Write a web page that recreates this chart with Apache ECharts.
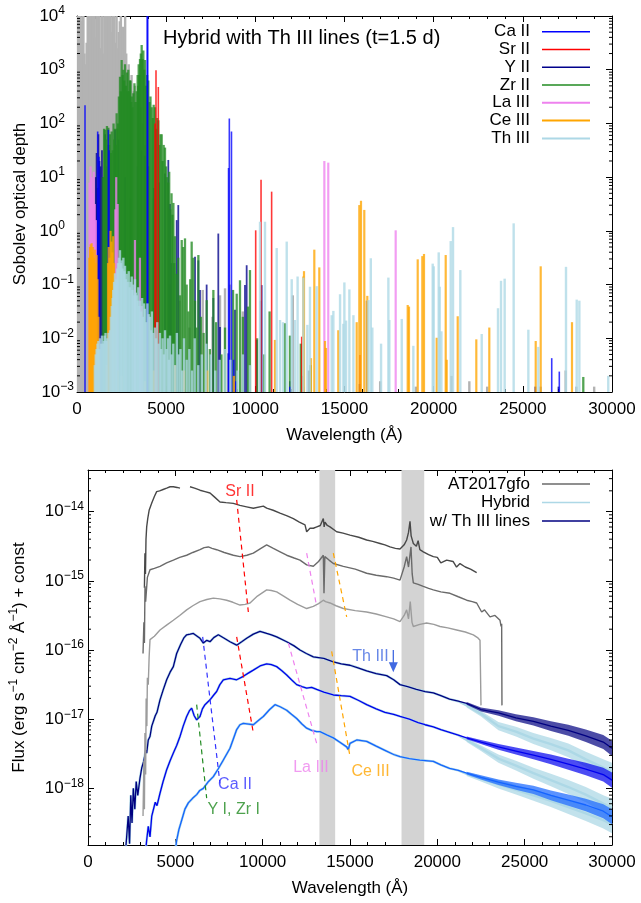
<!DOCTYPE html>
<html><head><meta charset="utf-8">
<script src="https://cdn.jsdelivr.net/npm/echarts@6/dist/echarts.min.js"></script>
<style>html,body{margin:0;padding:0;background:#fff}#c{width:641px;height:903px}</style>
</head><body><div id="c"></div>
<script>
// ===== TOP PANEL: Sobolev optical depth, entries are [wavelength (Å), log10 tau] =====
const others = [[60,4.2],[120,4.2],[180,4.2],[240,3.9],[300,4.2],[360,4.2],[420,3.3],[480,3.1],[540,3.5],[600,4.2],[660,4.2],[720,4.2],[780,3.9],[840,4.2],[900,4.2],[960,4.2],[1020,3.6],[1080,4.2],[1140,4.2],[1200,4.2],[1260,4.2],[1320,3.4],[1380,4.2],[1440,4.2],[1500,3.3],[1560,4.2],[1620,4.2],[1680,4.2],[1740,3.8],[1800,4.2],[1860,4.2],[1920,3.7],[1980,4.2],[2040,4.2],[2100,4.2],[2160,3.5],[2220,4.2],[2280,3.4],[2340,3.7],[2400,3.9],[2460,4.2],[2520,3.6],[2580,3.8],[2640,3.4],[2700,4.2],[2760,3.3],[2820,3.0],[2900,3.1],[2980,2.8],[3060,2.9],[3150,2.6],[3250,2.7],[3350,2.4],[3450,2.5],[3550,2.3],[3650,2.0],[3800,1.6],[4000,1.2],[4300,0.6],[5200,-1.0],[5750,-1.3],[6300,-1.8],[7050,-1.1],[7600,-1.6],[8020,-1.2],[8300,-1.07],[8580,-1.0],[9300,-1.5],[12100,-1.2],[13000,-2.6],[16250,-1.3],[17000,-2.8],[19000,-2.9],[21000,-2.7],[22000,-2.8],[23000,-2.9],[26000,-2.9],[27400,-2.6],[28000,-2.9],[29000,-2.9]];
const caII = [[449,2.34],[1160,1.85],[1234,1.38],[1757,1.88],[1800,1.5],[3934,5],[3968,4.2],[8498,1.17],[8542,2.09],[8662,1.85],[8780,-2.4],[8900,-2.8],[11940,-2.9],[12700,-2.9],[26620,-2.37],[27045,-2.62]];
const srII = [[4374,2.0],[4430,2.99],[4560,2.68],[10020,0.01],[10320,0.95],[10914,0.73],[12600,-1.97],[15870,-2.31]];
const yII = [[1050,1.0],[1100,1.45],[1160,0.8],[1200,1.8],[1260,1.3],[1320,1.2],[1400,1.5],[1450,1.0],[1570,1.8],[1650,1.2],[1750,1.6],[2130,1.88],[2317,1.7],[2700,1.0],[3000,0.6],[3400,1.2],[3600,1.5],[3800,1.4],[4000,1.2],[4300,0.8],[4600,0.9],[4935,1.07],[5120,1.32],[5215,0.5],[5300,-0.6],[5590,0.2],[5680,0.48],[6617,-0.48],[6804,-0.55],[6897,-1.10],[7270,-1.0],[7645,-1.25],[7924,-0.05],[8018,-1.79],[8486,-2.28],[8860,-1.47],[9420,-1.01],[9514,-0.64],[10075,-2.03],[10300,-1.3],[10355,-1.01],[11940,-2.8],[12680,-2.7],[15850,-2.85],[25700,-2.9],[27000,-2.9]];
const zrII = [[1450,1.0],[1520,1.9],[1570,1.88],[1620,1.7],[1680,1.95],[1757,1.92],[1800,1.6],[1850,1.8],[1900,1.45],[1944,1.85],[2000,1.5],[2050,2.0],[2090,1.7],[2130,1.9],[2180,1.6],[2224,2.19],[2260,1.9],[2300,2.0],[2350,2.5],[2411,2.87],[2460,2.6],[2505,3.18],[2560,2.9],[2600,3.0],[2650,2.8],[2692,3.1],[2750,2.7],[2800,2.95],[2840,2.6],[2878,3.0],[2930,2.6],[2970,2.8],[3000,2.8],[3040,2.4],[3070,2.5],[3110,2.3],[3159,2.56],[3220,2.75],[3280,2.4],[3346,2.6],[3400,2.9],[3430,2.7],[3460,3.1],[3500,2.9],[3533,3.2],[3580,3.3],[3626,3.46],[3680,3.2],[3720,3.36],[3770,3.0],[3813,3.18],[3870,2.7],[3930,2.9],[4000,2.8],[4060,2.4],[4120,2.5],[4187,2.3],[4250,2.1],[4300,2.35],[4374,2.3],[4440,1.9],[4500,2.1],[4561,2.06],[4620,1.6],[4680,1.8],[4748,1.8],[4800,1.3],[4860,1.6],[4935,1.55],[5000,1.2],[5050,1.0],[5110,0.9],[5170,1.1],[5230,0.4],[5300,0.7],[5350,0.3],[5405,0.52],[5450,-0.6],[5495,-0.1],[5580,-0.8],[5680,-0.5],[5780,-1.2],[5872,-0.17],[5960,-0.3],[6056,-0.14],[6150,-1.0],[6250,-1.5],[6350,-0.9],[6430,-0.2],[6526,-0.5],[6620,-1.3],[6700,-1.8],[6806,-0.45],[6950,-1.6],[7100,-1.9],[7273,-1.29],[7450,-2.2],[7647,-1.1],[7800,-1.7],[8100,-2.3],[8300,-1.8],[8750,-1.1],[8955,-1.17],[9140,-0.92],[9300,-1.6],[9590,-1.41],[9700,-0.73],[10100,-2.0],[10500,-2.3],[10800,-1.5],[11660,-1.72],[11940,-1.95],[12550,-2.1],[13100,-2.5],[28390,-2.72]];
const laIII = [[700,0.9],[760,1.2],[820,1.0],[880,0.7],[940,1.1],[1000,0.5],[1060,0.2],[2150,0.4],[2200,1.0],[2280,0.5],[3250,-0.17],[3530,-0.5],[3630,-1.4],[13870,1.30],[14090,1.27],[17870,0.01]];
const ceIII = [[690,-0.5],[730,-0.3],[770,-0.25],[820,-0.23],[860,-0.4],[900,-0.3],[950,-0.5],[1000,-0.35],[1050,-0.6],[1100,-0.45],[1150,-0.9],[1200,-1.6],[1240,-2.4],[1660,-2.5],[1740,-0.6],[1780,-0.3],[1830,-0.5],[1880,0.0],[1930,-0.2],[1980,-0.4],[2030,-0.1],[2080,-0.6],[2130,-1.5],[2300,-2.6],[2500,-2.7],[3800,-2.8],[4300,-2.6],[5500,-2.5],[6000,-2.6],[7300,-2.6],[8800,-2.7],[11100,-2.03],[12690,-0.85],[12729,-0.75],[13121,-2.37],[13307,-0.35],[13587,-0.68],[13907,-2.05],[13963,-2.18],[14652,-1.85],[15684,-1.70],[15830,0.48],[15925,0.56],[16110,0.39],[16279,-1.21],[18544,-1.38],[18617,-1.41],[19105,-0.53],[19363,-0.47],[19458,-0.43],[20170,-1.99],[20675,-0.45],[20731,-2.40],[21348,-1.59],[22391,-2.02],[23120,-1.80],[25722,-2.05],[26002,-0.66],[27757,-1.70]];
const thIII = [[1000,-2.5],[1050,-2.3],[1100,-2.2],[1150,-2.1],[1200,-2.05],[1250,-2.2],[1290,-2.0],[1350,-2.1],[1400,-1.95],[1450,-2.1],[1500,-2.05],[1550,-1.95],[1600,-1.9],[1650,-2.05],[1700,-2.0],[1770,-1.9],[1850,-1.85],[1900,-1.6],[1950,-1.4],[2000,-1.25],[2030,-1.1],[2080,-0.95],[2130,-0.79],[2170,-1.0],[2200,-0.9],[2250,-0.7],[2300,-0.6],[2350,-0.5],[2410,-0.36],[2460,-0.6],[2500,-0.55],[2550,-0.7],[2600,-0.5],[2650,-0.75],[2692,-0.65],[2740,-0.9],[2785,-0.8],[2840,-0.95],[2900,-0.75],[2950,-1.05],[3000,-0.95],[3070,-0.85],[3110,-1.1],[3160,-1.0],[3210,-1.2],[3250,-0.9],[3300,-1.15],[3350,-1.2],[3400,-1.3],[3440,-1.05],[3490,-1.4],[3530,-1.3],[3590,-1.5],[3650,-1.25],[3700,-1.6],[3760,-1.35],[3810,-1.45],[3880,-1.7],[3950,-1.35],[4020,-1.55],[4090,-1.6],[4150,-1.85],[4200,-1.5],[4280,-1.9],[4370,-1.8],[4430,-2.0],[4500,-1.7],[4570,-2.1],[4650,-1.9],[4720,-2.2],[4800,-2.0],[4870,-2.3],[4935,-1.85],[5020,-2.2],[5100,-2.0],[5160,-2.4],[5215,-1.95],[5300,-2.3],[5400,-2.1],[5500,-2.5],[5600,-1.9],[5700,-2.3],[5800,-2.2],[5900,-2.6],[6000,-2.0],[6150,-2.4],[6300,-2.2],[6450,-2.6],[6600,-2.0],[6800,-2.5],[7000,-2.3],[7250,-2.1],[7500,-2.3],[7750,-2.6],[8000,-2.4],[8300,-2.2],[8600,-2.4],[9000,-2.6],[9300,-2.3],[9700,-2.5],[10262,0.17],[10542,0.17],[11198,-0.32],[11385,-1.66],[11553,-1.7],[11760,-0.20],[12040,-0.9],[12220,-1.66],[12370,-0.85],[12693,-0.87],[12917,-1.75],[13065,-1.04],[13440,-1.03],[14282,-1.57],[14375,-1.49],[14750,-1.18],[14937,-1.73],[14993,-0.96],[15087,-1.67],[15274,-1.09],[15500,-1.57],[16340,-1.29],[16475,-0.51],[16560,-1.80],[17050,-2.10],[17460,-0.87],[17515,-1.66],[18210,-1.64],[18860,-2.14],[19946,-0.61],[20002,-0.66],[20283,-0.40],[20339,-1.04],[20433,-1.87],[20956,-0.19],[21085,0.07],[21494,-0.73],[22694,-1.92],[23608,-1.44],[23776,-0.93],[23981,-0.89],[24486,0.14],[25310,-1.84],[25870,-2.16],[27420,-0.67],[28021,-1.28],[28170,-1.30],[29790,-2.70]];

const topLegendNames = ['Ca II','Sr II','Y II','Zr II','La III','Ce III','Th III'];
const topTitle = 'Hybrid with Th III lines (t=1.5 d)';
const tauMin = 1e-3, tauMax = 1e4;
const tauDecades = [-3,-2,-1,0,1,2,3];
const xTicks = [0,5000,10000,15000,20000,25000,30000];

// ===== BOTTOM PANEL: flux, entries are [wavelength (Å), log10 flux] =====
const gfo1a = [[3230,-15.1],[3260,-14.6],[3290,-14.9],[3320,-14.4],[3360,-14.22],[3420,-14.1],[3500,-13.98],[3645,-13.88],[3800,-13.78],[3931,-13.71],[4100,-13.70],[4300,-13.68],[4504,-13.66],[4700,-13.64],[4886,-13.64],[5000,-13.62],[5100,-13.65],[5267,-13.66]];
const gfo1b = [[5840,-13.64],[6100,-13.66],[6412,-13.69],[6700,-13.71],[6985,-13.73],[7250,-13.79],[7557,-13.86],[7900,-13.87],[8321,-13.88],[8700,-13.91],[9084,-13.93],[9466,-13.95],[10038,-13.92],[10229,-13.95],[10600,-13.98],[10992,-14.02],[11400,-14.06],[11756,-14.10],[12100,-14.15],[12424,-14.19],[12519,-14.29],[12710,-14.24],[12901,-14.24],[13100,-14.22],[13300,-14.2],[13473,-14.10],[13520,-14.22],[13569,-14.15],[13700,-14.2],[13855,-14.22],[14237,-14.29],[14600,-14.31],[15000,-14.34],[15500,-14.37],[15954,-14.41],[16300,-14.43],[16718,-14.46],[17000,-14.48],[17290,-14.51],[17600,-14.53],[17863,-14.54],[18100,-14.48],[18244,-14.41],[18350,-14.30],[18435,-14.14],[18500,-14.35],[18626,-14.46],[18800,-14.50],[18900,-14.42],[19000,-14.55],[19198,-14.58],[19500,-14.62],[19771,-14.65],[20000,-14.66],[20200,-14.74],[20534,-14.70],[20900,-14.72],[21100,-14.80],[21298,-14.75],[21600,-14.80],[21900,-14.83],[22252,-14.88]];
const gfo2 = [[3150,-16.05],[3200,-15.6],[3230,-15.9],[3263,-15.08],[3300,-15.3],[3400,-14.95],[3550,-14.84],[3800,-14.82],[4122,-14.79],[4500,-14.74],[4886,-14.70],[5250,-14.66],[5649,-14.63],[6000,-14.59],[6412,-14.55],[6650,-14.52],[6889,-14.51],[7100,-14.53],[7366,-14.55],[7800,-14.59],[8321,-14.63],[8702,-14.65],[9100,-14.63],[9466,-14.60],[9900,-14.53],[10229,-14.48],[10611,-14.53],[11000,-14.58],[11374,-14.63],[11800,-14.67],[12137,-14.70],[12519,-14.77],[12901,-14.79],[13200,-14.72],[13473,-14.63],[13511,-15.18],[13560,-14.65],[13664,-14.67],[13800,-14.70],[14046,-14.75],[14618,-14.79],[15300,-14.83],[15954,-14.89],[16500,-14.92],[17099,-14.94],[17500,-14.96],[17863,-14.99],[18100,-14.80],[18244,-14.65],[18350,-14.80],[18492,-14.51],[18560,-14.90],[18626,-15.03],[18900,-15.05],[19198,-15.08],[19500,-15.11],[19771,-15.13],[20200,-15.16],[20725,-15.18],[21200,-15.23],[21679,-15.28],[22000,-15.30],[22252,-15.32],[22538,-15.45],[22700,-15.42],[23015,-15.52],[23300,-15.50],[23588,-15.57],[23650,-15.66],[23683,-15.62],[23700,-16.80]];
const gfo3 = [[3150,-18.4],[3200,-17.6],[3230,-18.3],[3260,-17.2],[3300,-17.8],[3330,-16.7],[3370,-17.1],[3400,-16.4],[3450,-16.5],[3500,-16.1],[3550,-15.85],[3800,-15.80],[4122,-15.71],[4500,-15.64],[4886,-15.57],[5250,-15.50],[5649,-15.42],[6000,-15.36],[6412,-15.30],[6800,-15.27],[7176,-15.25],[7550,-15.26],[7939,-15.28],[8300,-15.31],[8702,-15.35],[9000,-15.34],[9275,-15.32],[9700,-15.22],[10229,-15.13],[10500,-15.14],[10802,-15.16],[11200,-15.22],[11565,-15.28],[12000,-15.34],[12519,-15.40],[12901,-15.37],[13200,-15.33],[13473,-15.28],[13600,-15.30],[13855,-15.32],[14200,-15.36],[14618,-15.40],[15300,-15.43],[15954,-15.45],[16500,-15.48],[17099,-15.52],[17500,-15.55],[17863,-15.59],[18100,-15.50],[18244,-15.42],[18350,-15.55],[18450,-15.30],[18550,-15.60],[18626,-15.66],[19000,-15.63],[19389,-15.61],[19800,-15.63],[20153,-15.66],[20600,-15.68],[21107,-15.71],[21600,-15.74],[22061,-15.78],[22300,-15.82],[22443,-15.86],[22500,-16.80]];

// model spectra, blue part (shared by "Hybrid" and "w/ Th III lines")
const modelTopMain = [[2150,-18.9],[2214,-18.7],[2300,-18.4],[2380,-18.8],[2450,-18.1],[2520,-18.5],[2595,-18.0],[2680,-18.3],[2760,-17.9],[2850,-18.1],[2977,-17.85],[3080,-17.7],[3200,-17.6],[3300,-17.45],[3359,-17.49],[3450,-17.3],[3550,-17.25],[3650,-17.1],[3740,-17.11],[3850,-16.95],[3950,-16.9],[4122,-16.72],[4300,-16.58],[4504,-16.43],[4700,-16.32],[4886,-16.24],[5076,-16.05],[5300,-15.92],[5500,-15.82],[5649,-15.78],[5850,-15.77],[6031,-15.76],[6250,-15.80],[6412,-15.83],[6603,-15.90],[6800,-15.86],[6985,-15.88],[7200,-15.82],[7462,-15.78],[7800,-15.83],[8130,-15.88],[8512,-15.93],[8800,-15.88],[9084,-15.83],[9466,-15.77],[9847,-15.73],[10229,-15.76],[10500,-15.78],[10802,-15.81],[11374,-15.88],[11800,-15.94],[12137,-16.00],[12500,-16.05],[12901,-16.10],[13500,-16.12],[14046,-16.17],[14500,-16.20],[15000,-16.22],[15500,-16.26],[15954,-16.30],[16500,-16.34],[17099,-16.37],[17500,-16.43],[17863,-16.50],[18300,-16.53],[18800,-16.57],[19300,-16.60],[19771,-16.62],[20200,-16.66],[20700,-16.71],[21200,-16.74]];
const modelMidMain = [[3300,-18.9],[3359,-18.75],[3450,-18.55],[3550,-18.7],[3650,-18.4],[3740,-18.41],[3850,-18.2],[3950,-18.25],[4122,-18.07],[4300,-17.9],[4504,-17.73],[4700,-17.6],[4886,-17.49],[5076,-17.38],[5267,-17.25],[5450,-17.1],[5649,-16.96],[5800,-16.88],[5935,-16.84],[6080,-16.95],[6221,-17.01],[6412,-16.96],[6550,-16.85],[6698,-16.79],[6985,-16.72],[7200,-16.65],[7366,-16.60],[7550,-16.50],[7748,-16.43],[8130,-16.41],[8512,-16.43],[8893,-16.38],[9200,-16.33],[9466,-16.29],[9850,-16.23],[10229,-16.20],[10500,-16.21],[10802,-16.24],[11100,-16.30],[11374,-16.36],[11650,-16.43],[11947,-16.50],[12250,-16.53],[12519,-16.55],[12800,-16.54],[13092,-16.57],[13500,-16.61],[14046,-16.65],[14500,-16.66],[15000,-16.67],[15500,-16.73],[15954,-16.79],[16500,-16.85],[17000,-16.90],[17500,-16.93],[17863,-16.96],[18400,-17.00],[18900,-17.05],[19300,-17.08],[19771,-17.11],[20200,-17.15],[20700,-17.19],[21200,-17.23]];
const modelBotMain = [[5000,-18.9],[5076,-18.75],[5200,-18.6],[5363,-18.46],[5550,-18.3],[5744,-18.21],[6000,-18.14],[6221,-18.09],[6400,-18.03],[6603,-18.00],[6900,-17.90],[7176,-17.83],[7450,-17.72],[7748,-17.59],[8130,-17.42],[8300,-17.30],[8512,-17.15],[8700,-17.08],[8893,-17.06],[9200,-17.07],[9466,-17.08],[9750,-17.02],[10038,-16.96],[10400,-16.86],[10706,-16.79],[11000,-16.82],[11374,-16.87],[11650,-16.93],[11947,-16.99],[12250,-17.07],[12519,-17.13],[12800,-17.16],[13092,-17.18],[13282,-17.18],[13700,-17.23],[14046,-17.27],[14400,-17.33],[14809,-17.40],[14900,-17.44],[15000,-17.35],[15382,-17.30],[15954,-17.32],[16500,-17.39],[17000,-17.45],[17500,-17.51],[17863,-17.54],[18400,-17.57],[19000,-17.59],[19771,-17.61],[20200,-17.66],[20700,-17.71],[21200,-17.74]];
// red (noisy) part: central log flux and noise half-width (dex) on a shared grid
const redGrid   = [21679, 22500, 23500, 24500, 25500, 26500, 27500, 28500, 29500, 30000];
const topThC    = [-16.77,-16.86,-16.91,-16.98,-17.03,-17.10,-17.16,-17.24,-17.33,-17.42];
const topHyC    = [-16.80,-16.92,-17.10,-17.18,-17.28,-17.36,-17.45,-17.58,-17.70,-17.76];
const midThC    = [-17.27,-17.33,-17.40,-17.46,-17.52,-17.58,-17.65,-17.72,-17.80,-17.88];
const midHyC    = [-17.30,-17.42,-17.57,-17.67,-17.78,-17.88,-17.98,-18.09,-18.22,-18.28];
const botThC    = [-17.78,-17.84,-17.91,-17.97,-18.02,-18.10,-18.17,-18.24,-18.33,-18.41];
const botHyC    = [-17.79,-17.86,-17.94,-18.02,-18.10,-18.18,-18.27,-18.36,-18.46,-18.52];
const thNoise   = [0.02, 0.03, 0.04, 0.05, 0.06, 0.07, 0.08, 0.09, 0.10, 0.11];
const hyNoise   = [0.03, 0.04, 0.06, 0.07, 0.08, 0.09, 0.10, 0.11, 0.12, 0.13];

const tellBands = [[13250,14150],[17950,19250]];
const guideSr = [[[8512,-13.83],[9179,-15.45]],[[8512,-15.81],[9466,-17.20]]];
const guideCa = [[[6565,-15.81],[7557,-17.93]]];
const guideYZr = [[[6221,-16.79],[6794,-18.14]]];
const guideLa = [[[12519,-14.60],[13092,-15.37]],[[11469,-15.90],[13092,-17.35]]];
const guideCe = [[[14046,-14.60],[14809,-15.52]],[[13950,-16.02],[15000,-17.54]]];
const thArrow = [[17480,-16.0],[17480,-16.25]];
const annotTexts = ['Sr II','Ca II','Y I, Zr I','La III','Ce III','Th III'];
const annotLambda = [8702,8416,8340,12766,16174,16174];
const annotLogF = [-13.71,-17.94,-18.31,-17.70,-17.75,-16.095];
const bottomLegendNames = ['AT2017gfo','Hybrid','w/ Th III lines'];
const fluxMin = 1.52e-19, fluxMax = 4.0e-14;
const fluxDecades = [-19,-18,-17,-16,-15,-14];

// ===== build =====
const FONT = '"Liberation Sans", Arial, Helvetica, sans-serif';
const P = v => Math.pow(10, v);
const toXY = arr => arr.map(d => [d[0], P(d[1])]);
const withRed = (main, c) => toXY(main).concat(redGrid.map((x, i) => [x, P(c[i])]));
const bandData = (c, n) => redGrid.map((x, i) => [x, P(c[i] - n[i]), P(c[i] + n[i])]);

function impulseSeries(data, color, width, opacity) {
  return {
    type: 'custom', xAxisIndex: 0, yAxisIndex: 0, silent: true, animation: false,
    encode: { x: 0, y: 1 }, data: toXY(data),
    renderItem: function (params, api) {
      const x = api.value(0), t = api.value(1);
      const p0 = api.coord([x, tauMin]);
      const p1 = api.coord([x, t]);
      const y1 = Math.max(p1[1], params.coordSys.y);
      return { type: 'line', shape: { x1: p0[0], y1: p0[1], x2: p0[0], y2: y1 },
        style: { stroke: color, lineWidth: width, opacity: opacity } };
    }
  };
}
function bandSeries(data, color, opacity, z) {
  return {
    type: 'custom', xAxisIndex: 2, yAxisIndex: 2, silent: true, animation: false, z: z,
    encode: { x: 0, y: [1, 2] }, data: data,
    renderItem: function (params, api) {
      if (params.dataIndex !== 0) return null;
      const upper = data.map(d => api.coord([d[0], d[2]]));
      const lower = data.map(d => api.coord([d[0], d[1]])).reverse();
      return { type: 'polygon', shape: { points: upper.concat(lower) }, style: { fill: color, opacity: opacity } };
    }
  };
}
function minorTicks(xi, yi, decades, lo, hi) {
  const vals = [];
  decades.forEach(d => { for (let m = 2; m <= 9; m++) { const v = m * Math.pow(10, d); if (v > lo && v < hi) vals.push([0, v]); } });
  return {
    type: 'custom', xAxisIndex: xi, yAxisIndex: yi, silent: true, z: 10, animation: false,
    encode: { x: 0, y: 1 }, data: vals,
    renderItem: function (params, api) {
      const cs = params.coordSys;
      const y = api.coord([0, api.value(1)])[1];
      return { type: 'group', children: [
        { type: 'line', shape: { x1: cs.x, y1: y, x2: cs.x + 3, y2: y }, style: { stroke: '#000', lineWidth: 1 } },
        { type: 'line', shape: { x1: cs.x + cs.width, y1: y, x2: cs.x + cs.width - 3, y2: y }, style: { stroke: '#000', lineWidth: 1 } }
      ] };
    }
  };
}
function logLabel(v) {
  const l = Math.log10(v), e = Math.round(l);
  if (Math.abs(l - e) > 1e-4) return '';
  return e < 0 ? '10{s|\u2212' + (-e) + '}' : '10{sp|' + e + '}';
}
const richSup = {
  s: { fontSize: 12, fontFamily: FONT, color: '#000', padding: [0, 0, 10, 0] },
  sp: { fontSize: 12, fontFamily: FONT, color: '#000', padding: [0, 9, 10, 0] }
};
function xAxisDef(grid, pos, showLabel) {
  return {
    type: 'value', gridIndex: grid, position: pos, min: xTicks[0], max: xTicks[xTicks.length - 1], interval: xTicks[1] - xTicks[0],
    axisLine: { show: true, onZero: false, lineStyle: { color: '#000', width: 1 } },
    axisTick: { show: true, inside: true, length: 6, lineStyle: { color: '#000' } },
    minorTick: { show: true, splitNumber: 5, length: 3, lineStyle: { color: '#000' } },
    splitLine: { show: false }, minorSplitLine: { show: false },
    axisLabel: { show: showLabel, margin: 9, fontSize: 17, fontFamily: FONT, color: '#000', showMinLabel: true, showMaxLabel: true,
      formatter: v => String(Math.round(v)) },
    name: showLabel ? 'Wavelength (\u00c5)' : '', nameLocation: 'middle', nameGap: 35,
    nameTextStyle: { fontSize: 17, fontFamily: FONT, color: '#000' }
  };
}
function yAxisDef(grid, pos, showLabel, min, max, split, margin, name, nameGap) {
  return {
    type: 'log', logBase: 10, gridIndex: grid, position: pos, min: min, max: max, splitNumber: split,
    axisLine: { show: true, onZero: false, lineStyle: { color: '#000', width: 1 } },
    axisTick: { show: true, inside: true, length: 6, lineStyle: { color: '#000' } },
    minorTick: { show: false }, splitLine: { show: false },
    axisLabel: { show: showLabel, margin: margin, fontSize: 17, fontFamily: FONT, color: '#000',
      formatter: logLabel, rich: richSup, showMinLabel: true, showMaxLabel: true },
    name: showLabel ? name : '', nameLocation: 'middle', nameGap: nameGap, nameRotate: 90,
    nameTextStyle: { fontSize: 17, fontFamily: FONT, color: '#000', rich: { s: { fontSize: 12, fontFamily: FONT, color: '#000', padding: [0, 0, 10, 0] } } }
  };
}
function lineS(data, color, width, extra) {
  return Object.assign({ type: 'line', xAxisIndex: 2, yAxisIndex: 2, data: data, showSymbol: false, symbol: 'none',
    silent: true, animation: false, sampling: false, clip: true,
    lineStyle: { color: color, width: width } }, extra || {});
}
function guideSeries(list, color) {
  return list.map(seg => lineS(toXY(seg), color, 1.2, { lineStyle: { color: color, width: 1.2, type: [5, 4] }, z: 6 }));
}

const topColors = { 'Ca II': '#0000ff', 'Sr II': '#ff0000', 'Y II': '#00008b', 'Zr II': '#228b22', 'La III': '#ee82ee', 'Ce III': '#ffa500', 'Th III': '#add8e6' };
const topWidths = { 'Ca II': 1.5, 'Sr II': 1.5, 'Y II': 1.5, 'Zr II': 1.5, 'La III': 2, 'Ce III': 2, 'Th III': 2 };
const topData = { 'Ca II': caII, 'Sr II': srII, 'Y II': yII, 'Zr II': zrII, 'La III': laIII, 'Ce III': ceIII, 'Th III': thIII };
const drawW = { 'Ca II': 1.6, 'Sr II': 1.6, 'Y II': 1.8, 'Zr II': 2.3, 'La III': 2.2, 'Ce III': 2.2, 'Th III': 2.4 };
const drawOrder = ['Y II', 'Zr II', 'Ca II', 'Sr II', 'La III', 'Ce III', 'Th III'];

const series = [];
series.push(impulseSeries(others, '#b3b3b3', 2.4, 1));
drawOrder.forEach(n => series.push(impulseSeries(topData[n], topColors[n], drawW[n], 0.78)));
series.push(minorTicks(0, 0, tauDecades, tauMin, tauMax));

// bottom panel
const colTop = '#000080', colMid = '#0000ee', colBot = '#1464ff', colHy = '#add8e6';
series.push(lineS([], '#000', 1, {
  z: 1, markArea: { silent: true, itemStyle: { color: '#d3d3d3' },
    data: tellBands.map(b => [{ xAxis: b[0] }, { xAxis: b[1] }]) }
}));
series.push(bandSeries(bandData(topHyC, hyNoise), colHy, 0.75, 2));
series.push(bandSeries(bandData(midHyC, hyNoise), colHy, 0.75, 2));
series.push(bandSeries(bandData(botHyC, hyNoise), colHy, 0.75, 2));
series.push(lineS(withRed(modelTopMain, topHyC), colHy, 2.4, { z: 2 }));
series.push(lineS(withRed(modelMidMain, midHyC), colHy, 2.4, { z: 2 }));
series.push(lineS(withRed(modelBotMain, botHyC), colHy, 2.4, { z: 2 }));
series.push(bandSeries(bandData(topThC, thNoise), colTop, 0.7, 3));
series.push(bandSeries(bandData(midThC, thNoise), colMid, 0.7, 3));
series.push(bandSeries(bandData(botThC, thNoise), colBot, 0.7, 3));
series.push(lineS(withRed(modelTopMain, topThC), colTop, 1.3, { z: 3 }));
series.push(lineS(withRed(modelMidMain, midThC), colMid, 1.3, { z: 3 }));
series.push(lineS(withRed(modelBotMain, botThC), colBot, 1.3, { z: 3 }));
series.push(lineS(toXY(gfo1a), '#484848', 1.4, { z: 4 }));
series.push(lineS(toXY(gfo1b), '#484848', 1.4, { z: 4 }));
series.push(lineS(toXY(gfo2), '#6a6a6a', 1.4, { z: 4 }));
series.push(lineS(toXY(gfo3), '#9c9c9c', 1.4, { z: 4 }));
guideSeries(guideSr, '#ff0000').forEach(s => series.push(s));
guideSeries(guideCa, '#3333ff').forEach(s => series.push(s));
guideSeries(guideYZr, '#228b22').forEach(s => series.push(s));
guideSeries(guideLa, '#ee82ee').forEach(s => series.push(s));
guideSeries(guideCe, '#ffa500').forEach(s => series.push(s));
series.push(lineS([
  { value: [thArrow[0][0], P(thArrow[0][1])], symbol: 'none' },
  { value: [thArrow[1][0], P(thArrow[1][1])], symbol: 'triangle', symbolSize: [9, 10], symbolRotate: 180 }
], '#4169e1', 1.3, { showSymbol: true, itemStyle: { color: '#4169e1' }, z: 7 }));
const annotColors = ['#ff0000', '#3333ff', '#228b22', '#ee82ee', '#ffa500', '#4169e1'];
series.push({
  type: 'scatter', xAxisIndex: 2, yAxisIndex: 2, silent: true, animation: false, symbolSize: 0, z: 8,
  data: annotTexts.map((t, i) => ({ name: t, value: [annotLambda[i], P(annotLogF[i])],
    label: { show: true, position: 'inside', formatter: '{b}', color: annotColors[i], fontSize: 16, fontFamily: FONT } }))
});
series.push(minorTicks(2, 2, fluxDecades, fluxMin, fluxMax));

// legends and title
const graphic = [];
graphic.push({ type: 'text', x: 163, y: 38, style: { text: topTitle, fontSize: 20, fontFamily: FONT, fill: '#000', align: 'left', verticalAlign: 'middle' } });
const topLegY = [31.7, 49.4, 67.2, 85, 102.8, 120.6, 138.4];
topLegendNames.forEach((n, i) => {
  graphic.push({ type: 'text', x: 530, y: topLegY[i], style: { text: n, fontSize: 17, fontFamily: FONT, fill: '#000', align: 'right', verticalAlign: 'middle' } });
  graphic.push({ type: 'line', shape: { x1: 542, y1: topLegY[i], x2: 590, y2: topLegY[i] }, style: { stroke: topColors[n], lineWidth: topWidths[n] } });
});
const botLegY = [484, 502.5, 521];
const botLegCol = ['#6a6a6a', colHy, colTop];
bottomLegendNames.forEach((n, i) => {
  graphic.push({ type: 'text', x: 530, y: botLegY[i], style: { text: n, fontSize: 17, fontFamily: FONT, fill: '#000', align: 'right', verticalAlign: 'middle' } });
  graphic.push({ type: 'line', shape: { x1: 542, y1: botLegY[i], x2: 590, y2: botLegY[i] }, style: { stroke: botLegCol[i], lineWidth: 1.5 } });
});

const option = {
  animation: false,
  backgroundColor: '#fff',
  grid: [
    { left: 77, top: 16, width: 535, height: 376, containLabel: false, outerBoundsMode: 'none' },
    { left: 88, top: 470, width: 524, height: 375, containLabel: false, outerBoundsMode: 'none' }
  ],
  xAxis: [xAxisDef(0, 'bottom', true), xAxisDef(0, 'top', false), xAxisDef(1, 'bottom', true), xAxisDef(1, 'top', false)],
  yAxis: [
    yAxisDef(0, 'left', true, tauMin, tauMax, 7, 3, 'Sobolev optical depth', 48),
    yAxisDef(0, 'right', false, tauMin, tauMax, 7, 3, '', 0),
    yAxisDef(1, 'left', true, fluxMin, fluxMax, 6, 4, 'Flux (erg s{s|\u22121} cm{s|\u22122} \u00c5{s|\u22121}) + const', 58),
    yAxisDef(1, 'right', false, fluxMin, fluxMax, 6, 4, '', 0)
  ],
  series: series,
  graphic: graphic
};
const chart = echarts.init(document.getElementById('c'), null, { renderer: 'canvas' });
chart.setOption(option);
</script></body></html>
